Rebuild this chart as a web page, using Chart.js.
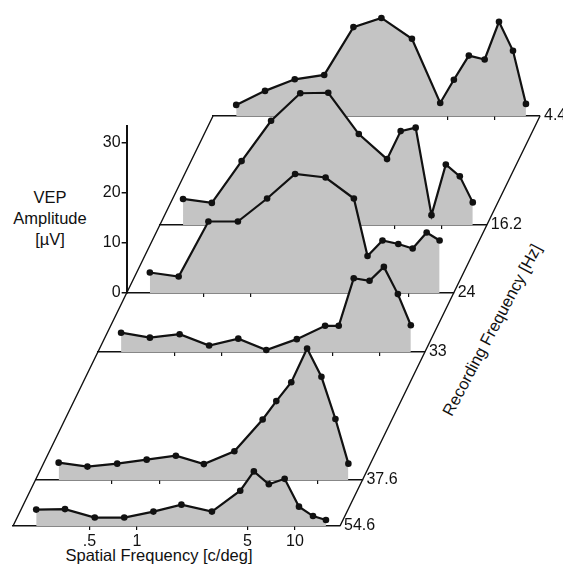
<!DOCTYPE html>
<html>
<head>
<meta charset="utf-8">
<script src="https://cdn.jsdelivr.net/npm/chart.js@4"></script>
<style>
  html, body { margin: 0; padding: 0; background: #fff; }
  #wrap { position: relative; width: 563px; height: 571px; overflow: hidden;
          font-family: "Liberation Sans", Arial, sans-serif; color: #111; }
  #wrap canvas { position: absolute; left: 0; top: 0; }
  .title { position: absolute; font-size: 16.5px; white-space: nowrap; line-height: 21px; }
</style>
</head>
<body>
<div id="wrap">
  <div class="title" id="yTitle" style="left:0;top:187px;width:100px;text-align:center;">VEP<br>Amplitude<br>[µV]</div>
  <div class="title" id="xTitle" style="left:159px;top:555px;transform:translate(-50%,-50%);">Spatial Frequency [c/deg]</div>
  <div class="title" id="zTitle" style="left:492px;top:330px;transform:translate(-50%,-50%) rotate(-62deg);">Recording Frequency [Hz]</div>
</div>
<script>
// Spatial frequencies of the gratings (c/deg), shared by every row
const spatialFreq = [0.23, 0.35, 0.54, 0.83, 1.27, 1.91, 2.98, 4.5, 5.49, 6.83, 8.6, 10.6, 13.0, 15.7];

// Recording (temporal) frequency of each row, back to front (Hz)
const recordingFreqLabels = ['4.4', '16.2', '24', '33', '37.6', '54.6'];

// VEP amplitude (µV) per row
const amp4_4  = [2.3, 5.2, 7.6, 8.5, 18.4, 20.3, 16.0, 2.7, 7.5, 12.5, 11.7, 19.5, 13.5, 2.5];
const amp16_2 = [5.3, 4.5, 13.0, 21.2, 26.8, 26.9, 18.5, 13.4, 19.1, 19.8, 2.0, 12.3, 9.9, 4.6];
const amp24   = [4.1, 3.3, 14.3, 14.3, 18.9, 23.8, 23.1, 18.9, 7.4, 10.5, 9.8, 8.9, 12.1, 10.5];
const amp33   = [3.9, 2.9, 3.6, 1.3, 2.7, 0.4, 2.6, 5.3, 5.3, 14.9, 14.4, 17.2, 11.7, 5.4];
const amp37_6 = [3.5, 2.7, 3.3, 4.1, 4.9, 3.2, 5.8, 12.2, 15.9, 19.7, 26.5, 20.8, 12.3, 3.3];
const amp54_6 = [3.3, 3.4, 1.7, 1.7, 2.9, 4.3, 2.9, 7.1, 11.0, 8.4, 9.5, 3.9, 2.0, 1.2];
const amplitudes = [amp4_4, amp16_2, amp24, amp33, amp37_6, amp54_6];

// Axis ticks
const xTickValues = [0.5, 1, 5, 10];
const xTickLabels = ['.5', '1', '5', '10'];
const yTickValues = [0, 10, 20, 30];

// ---- layout of the oblique floor ----
const PAGE_W = 563, PAGE_H = 571;
const CANVAS_W = 620;                               // wider than the page so the back-row label may run off the edge
const floorY = [116, 225, 293, 352, 480, 526];      // baseline of each row
const edgeTop = { x: 213, y: 116 };                 // back-left corner of the floor
const edgeBottom = { x: 13, y: 526 };               // front-left corner of the floor
const FLOOR_W = 327;                                // width of every row
const X_MIN = 0.164, X_MAX = 19.27;                 // spatial-frequency span of a row
const PX_PER_UV = 5;
const AXIS_ROW = 2;                                 // row carrying the amplitude axis
const AXIS_TOP_UV = 33.5;
const ROW_TOP = 10;                                 // room for the row label's half height
const LEFT_AXIS_W = 36, RIGHT_AXIS_W = 44;
const FILL = '#c4c4c4';
const FONT = { family: '"Liberation Sans", Arial, sans-serif', size: 16 };

function floorLeft(i) {
  return edgeTop.x + (edgeBottom.x - edgeTop.x) * (floorY[i] - edgeTop.y) / (edgeBottom.y - edgeTop.y);
}

// Slanted sides of the floor between this row and the one behind it
const floorEdges = {
  id: 'floorEdges',
  beforeDatasetsDraw(chart, args, opts) {
    const i = opts.row;
    if (i === 0) return;
    const { ctx, chartArea } = chart;
    const backLeft = floorLeft(i - 1), backY = floorY[i - 1];
    ctx.save();
    ctx.strokeStyle = '#111';
    ctx.lineWidth = 1.4;
    ctx.beginPath();
    ctx.moveTo(chartArea.left, chartArea.bottom);
    ctx.lineTo(backLeft, backY);
    ctx.moveTo(chartArea.right, chartArea.bottom);
    ctx.lineTo(backLeft + FLOOR_W, backY);
    ctx.stroke();
    ctx.restore();
  }
};

const wrap = document.getElementById('wrap');
const lastRow = recordingFreqLabels.length - 1;

recordingFreqLabels.forEach((label, i) => {
  const cv = document.createElement('canvas');
  cv.width = CANVAS_W; cv.height = PAGE_H;
  cv.style.width = CANVAS_W + 'px'; cv.style.height = PAGE_H + 'px';
  cv.style.zIndex = i + 1;
  wrap.appendChild(cv);

  const isAxisRow = i === AXIS_ROW;
  const isFront = i === lastRow;
  const left = floorLeft(i);
  const xAxisH = isFront ? 30 : 5;
  const top = isAxisRow ? floorY[i] - AXIS_TOP_UV * PX_PER_UV : ROW_TOP;
  const yMax = (floorY[i] - top) / PX_PER_UV;

  new Chart(cv, {
    type: 'line',
    data: {
      datasets: [{
        data: spatialFreq.map((f, j) => ({ x: f, y: amplitudes[i][j] })),
        borderColor: '#111',
        borderWidth: 2.2,
        backgroundColor: FILL,
        fill: 'origin',
        tension: 0,
        pointRadius: 3.3,
        pointBackgroundColor: '#111',
        pointBorderColor: '#111',
        pointBorderWidth: 0,
        clip: false
      }]
    },
    options: {
      responsive: false,
      devicePixelRatio: 1,
      animation: false,
      events: [],
      layout: {
        padding: {
          left: left - (isAxisRow ? LEFT_AXIS_W : 0),
          right: CANVAS_W - (left + FLOOR_W) - RIGHT_AXIS_W,
          top: top,
          bottom: PAGE_H - floorY[i] - xAxisH
        }
      },
      plugins: {
        legend: { display: false },
        tooltip: { enabled: false },
        floorEdges: { row: i }
      },
      scales: {
        x: {
          type: 'logarithmic',
          position: 'bottom',
          min: X_MIN,
          max: X_MAX,
          z: 1,
          afterBuildTicks: (s) => { s.ticks = xTickValues.map(v => ({ value: v })); },
          afterFit: (s) => { s.height = xAxisH; },
          grid: { display: true, drawOnChartArea: false, drawTicks: true, tickLength: 4, color: '#111', lineWidth: 1.2 },
          border: { display: true, color: '#111', width: 1.6 },
          ticks: {
            display: isFront,
            autoSkip: false,
            maxRotation: 0,
            padding: 2,
            color: '#111',
            font: FONT,
            callback: (v, idx) => xTickLabels[idx]
          }
        },
        y: {
          type: 'linear',
          position: 'left',
          display: isAxisRow,
          min: 0,
          max: yMax,
          afterBuildTicks: (s) => { s.ticks = yTickValues.map(v => ({ value: v })); },
          afterFit: (s) => { if (isAxisRow) s.width = LEFT_AXIS_W; },
          grid: { display: true, drawOnChartArea: false, drawTicks: true, tickLength: 5, color: '#111', lineWidth: 1.5 },
          border: { display: true, color: '#111', width: 2 },
          ticks: {
            padding: 1,
            color: '#111',
            font: FONT,
            callback: (v) => String(v)
          }
        },
        yr: {
          type: 'linear',
          position: 'right',
          min: 0,
          max: yMax,
          afterBuildTicks: (s) => { s.ticks = [{ value: 0 }]; },
          afterFit: (s) => { s.width = RIGHT_AXIS_W; },
          grid: { display: false, drawTicks: false },
          border: { display: false },
          ticks: {
            padding: 4,
            color: '#111',
            font: FONT,
            callback: () => label
          }
        }
      }
    },
    plugins: [floorEdges]
  });
});
</script>
</body>
</html>
